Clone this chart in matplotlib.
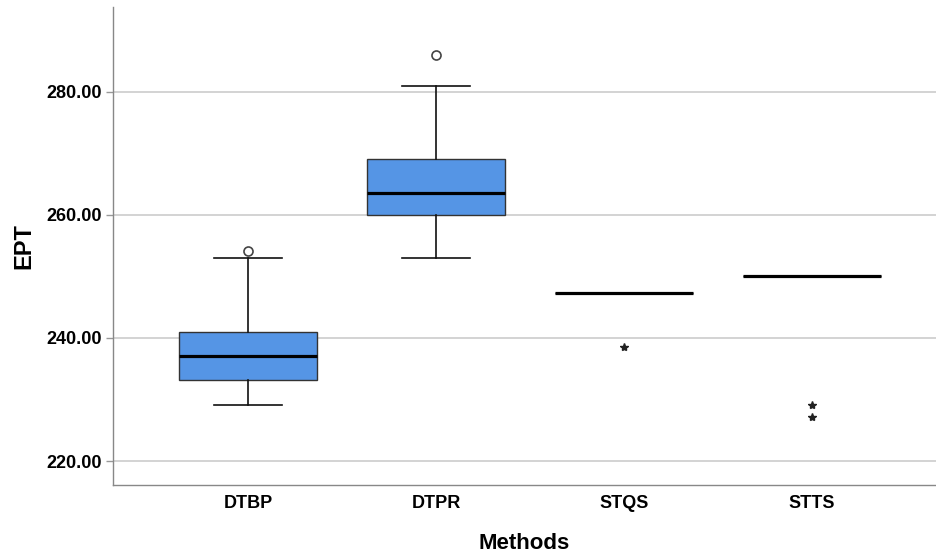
import matplotlib
matplotlib.use("Agg")
import matplotlib.pyplot as plt

methods = ["DTBP", "DTPR", "STQS", "STTS"]
q1 = [233.1, 260.0, 247.3, 250.1]
median = [237.1, 263.5, 247.3, 250.1]
q3 = [241.0, 269.1, 247.3, 250.1]
whisker_low = [229.1, 253.05, 247.3, 250.1]
whisker_high = [253.05, 281.0, 247.3, 250.1]
outliers = [[254.1], [286.0], [], []]       # drawn as circles
extremes = [[], [], [238.6], [229.1, 227.1]]  # drawn as stars
yticks = [220, 240, 260, 280]

plt.rcParams['font.family'] = ['Liberation Sans', 'DejaVu Sans']

fig = plt.figure(figsize=(9.36, 5.56), dpi=100)
ax = fig.add_axes([113/936, 1-485/556, 1-113/936, (485-7)/556])

stats = []
for i in range(len(methods)):
    stats.append(dict(label=methods[i], q1=q1[i], med=median[i], q3=q3[i],
                      whislo=whisker_low[i], whishi=whisker_high[i], fliers=[]))

pos = list(range(len(methods)))
ax.bxp(stats, positions=pos, widths=0.73, patch_artist=True, showfliers=False,
       boxprops=dict(facecolor='#5595e5', edgecolor='#333333', linewidth=1.0),
       medianprops=dict(color='black', linewidth=2.3, solid_capstyle='butt'),
       whiskerprops=dict(color='#111111', linewidth=1.2),
       capprops=dict(color='#111111', linewidth=1.2),
       capwidths=0.365, zorder=3)

for i, vals in enumerate(outliers):
    if vals:
        ax.plot([pos[i]]*len(vals), vals, linestyle='none', marker='o',
                markersize=6.5, markerfacecolor='white', markeredgecolor='#444444',
                markeredgewidth=1.2, zorder=4)
for i, vals in enumerate(extremes):
    if vals:
        ax.plot([pos[i]]*len(vals), vals, linestyle='none', marker='*',
                markersize=6, color='#222222', zorder=4)

ax.set_xlim(-0.718, 3.66)
ax.set_ylim(216.1, 293.8)
ax.set_yticks(yticks)
ax.set_yticklabels([f"{v:.2f}" for v in yticks], fontsize=13, fontweight='bold')
ax.set_xticks(pos)
ax.set_xticklabels(methods, fontsize=13, fontweight='bold')
ax.tick_params(axis='x', length=0, pad=7)
ax.tick_params(axis='y', length=5, color='#999999', width=1, pad=3)
ax.yaxis.grid(True, color='#cccccc', linewidth=1.2, zorder=0)
ax.set_axisbelow(True)
for s in ['top', 'right']:
    ax.spines[s].set_visible(False)
for s in ['left', 'bottom']:
    ax.spines[s].set_color('#888888')
    ax.spines[s].set_linewidth(1.0)

ax.set_ylabel("EPT", fontsize=17, fontweight='bold', labelpad=8)
ax.set_xlabel("Methods", fontsize=16, fontweight='bold', labelpad=15)

fig.savefig("out.png", dpi=100)
